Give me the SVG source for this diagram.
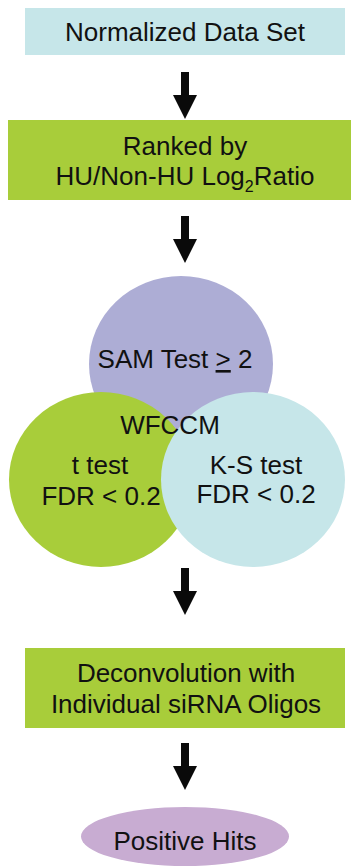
<svg xmlns="http://www.w3.org/2000/svg" xmlns:xlink="http://www.w3.org/1999/xlink" width="351" height="867" viewBox="0 0 351 867">
  <style>
    text { font-family: "Liberation Sans", Arial, Helvetica, sans-serif; font-size: 26px; fill: #111; text-anchor: middle; }
    .cyan { fill: #c6e6e9; }
    .green { fill: #a8cd3a; }
    .purple { fill: #adadd5; }
    .mauve { fill: #c8acd2; }
    .arrow { fill: #0a0a0a; }
  </style>
  <defs>
    <!-- downward block arrow, origin at top centre of shaft -->
    <path id="down-arrow" class="arrow" d="M-4,0 H4 V23 H12 L0,47 L-12,23 H-4 Z"/>
  </defs>

  <rect width="351" height="867" fill="#ffffff"/>

  <g id="connectors">
    <use xlink:href="#down-arrow" x="185" y="72"/>
    <use xlink:href="#down-arrow" x="185" y="216"/>
    <use xlink:href="#down-arrow" x="185" y="568"/>
    <use xlink:href="#down-arrow" x="185" y="743"/>
  </g>

  <g id="normalized-data-set">
    <rect class="cyan" x="25" y="8" width="320" height="47"/>
    <text x="185" y="41">Normalized Data Set</text>
  </g>

  <g id="ranked">
    <rect class="green" x="8" y="120" width="343" height="80"/>
    <text x="185" y="155">Ranked by</text>
    <text x="185" y="185">HU/Non-HU Log<tspan font-size="16" dy="7">2</tspan><tspan dy="-7">Ratio</tspan></text>
  </g>

  <g id="wfccm">
    <g id="sam-test">
      <ellipse class="purple" cx="181" cy="364" rx="92" ry="88"/>
    </g>
    <g id="t-test">
      <ellipse class="green" cx="101" cy="479.5" rx="92" ry="87.5"/>
    </g>
    <g id="ks-test">
      <ellipse class="cyan" cx="253" cy="479.5" rx="92" ry="87.5"/>
    </g>
    <text x="175" y="368">SAM Test <tspan text-decoration="underline">&gt;</tspan> 2</text>
    <text x="170" y="434">WFCCM</text>
    <text x="100" y="474">t test</text>
    <text x="101" y="505">FDR &lt; 0.2</text>
    <text x="256" y="474">K-S test</text>
    <text x="256" y="503">FDR &lt; 0.2</text>
  </g>

  <g id="deconvolution">
    <rect class="green" x="25" y="648" width="320" height="80"/>
    <text x="186" y="682">Deconvolution with</text>
    <text x="186" y="713">Individual siRNA Oligos</text>
  </g>

  <g id="positive-hits">
    <ellipse class="mauve" cx="185" cy="836.5" rx="104" ry="29.5"/>
    <text x="185" y="850">Positive Hits</text>
  </g>
</svg>
